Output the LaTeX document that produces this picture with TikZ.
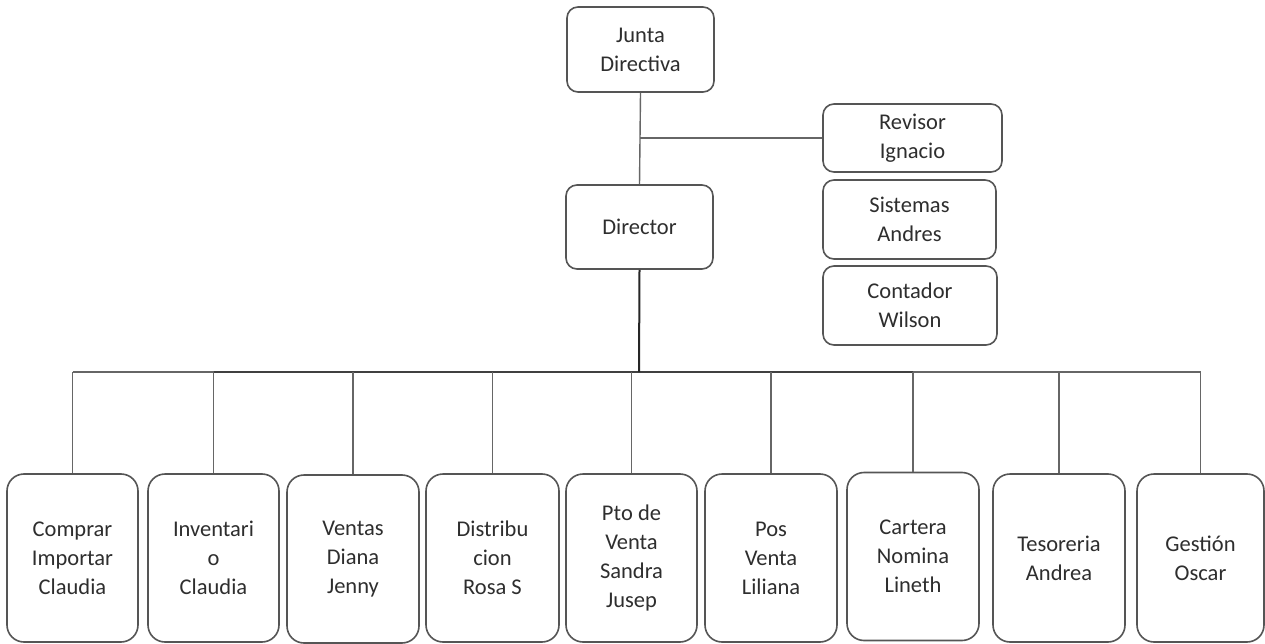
\documentclass[tikz,border=0pt]{standalone}
\usepackage{fontspec}
\setmainfont{Carlito}
\definecolor{boxline}{HTML}{555555}
\definecolor{txt}{HTML}{2E2E2E}
\definecolor{conn}{HTML}{666666}
\begin{document}
\begin{tikzpicture}[x=1pt,y=-1pt,
  topbox/.style={draw=boxline, line width=1.6pt, rounded corners=11pt, fill=white,
    align=center, inner sep=0pt, text=txt, font=\fontsize{22.5}{29}\selectfont},
  botbox/.style={draw=boxline, line width=1.6pt, rounded corners=17pt, fill=white,
    align=center, inner sep=0pt, text=txt, font=\fontsize{22.5}{29}\selectfont,
    minimum height=168pt},
  link/.style={draw=conn, line width=1.4pt},
  mainlink/.style={draw=black!85, line width=2pt}
]
\useasboundingbox (0,0) rectangle (1265,644);
\fill[white] (0,0) rectangle (1265,644);

% coordinates
\coordinate (rev) at (640,138);
\coordinate (bus) at (639,372);

% top boxes
\node[topbox, minimum width=147pt, minimum height=85pt] (junta) at (640.5,49.5) {Junta\\Directiva};
\node[topbox, minimum width=179pt, minimum height=68pt] (revisor) at (912.5,138) {Revisor\\Ignacio};
\node[topbox, minimum width=173pt, minimum height=79pt] (sistemas) at (909.5,219.5) {Sistemas\\Andres};
\node[topbox, minimum width=174pt, minimum height=79pt] (contador) at (910,305.5) {Contador\\Wilson};
\node[topbox, minimum width=147pt, minimum height=84pt] (director) at (639.5,227) {Director};

% bottom boxes
\node[botbox, minimum width=131pt] (b1) at (72.5,558) {Comprar\\Importar\\Claudia};
\node[botbox, minimum width=131pt] (b2) at (213.5,558) {Inventari\\o\\Claudia};
\node[botbox, minimum width=132pt] (b3) at (353,559) {Ventas\\Diana\\Jenny};
\node[botbox, minimum width=133pt] (b4) at (492.5,558) {Distribu\\cion\\Rosa S};
\node[botbox, minimum width=131pt] (b5) at (631.5,558) {Pto de\\Venta\\Sandra\\Jusep};
\node[botbox, minimum width=132pt] (b6) at (771,558) {Pos\\Venta\\Liliana};
\node[botbox, minimum width=132pt] (b7) at (913,556.5) {Cartera\\Nomina\\Lineth};
\node[botbox, minimum width=132pt] (b8) at (1059,558) {Tesoreria\\Andrea};
\node[botbox, minimum width=127pt] (b9) at (1200.5,558) {Gestión\\Oscar};

% connectors
\draw[link] (junta.south) -- (director.north);
\draw[link] (rev) -- (revisor.west);
\draw[link] (b1.north |- bus) -- (b9.north |- bus);
\draw[mainlink, line width=1.8pt, draw=black!75] (b2.north |- bus) -- (b7.north |- bus);
\draw[mainlink] (director.south) -- (bus);
\foreach \b in {b1,b2,b3,b4,b5,b6,b7,b8,b9}{
  \draw[link] (\b.north |- bus) -- (\b.north);
}
\end{tikzpicture}
\end{document}
